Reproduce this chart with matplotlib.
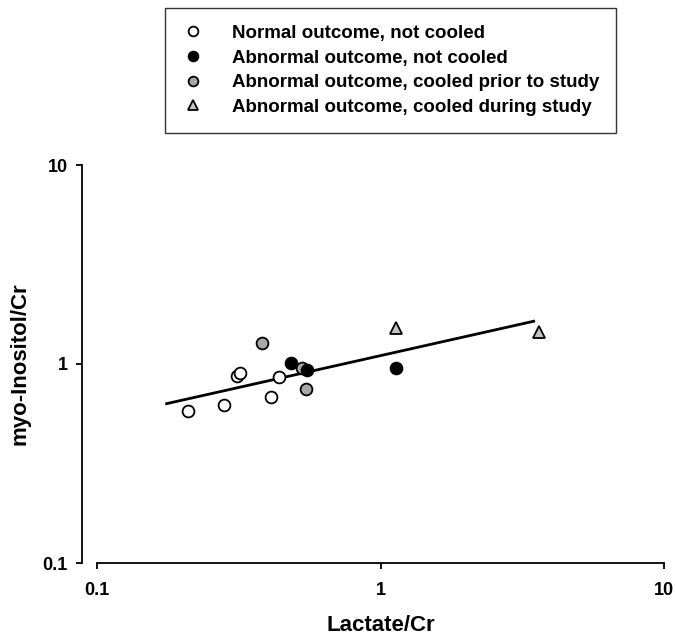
import matplotlib
matplotlib.use("Agg")
import matplotlib.pyplot as plt
from matplotlib.lines import Line2D

plt.rcParams['font.family'] = ['Liberation Sans', 'DejaVu Sans']
plt.rcParams['font.weight'] = 'bold'

# Data
normal_x = [0.210, 0.281, 0.311, 0.320, 0.410, 0.439]
normal_y = [0.582, 0.624, 0.873, 0.901, 0.679, 0.856]
abn_x = [0.482, 0.551, 1.13]
abn_y = [1.01, 0.929, 0.955]
cooled_prior_x = [0.383, 0.529, 0.548]
cooled_prior_y = [1.27, 0.95, 0.748]
cooled_during_x = [1.13, 3.62]
cooled_during_y = [1.52, 1.45]
fit_x = [0.176, 3.47]
fit_y = [0.632, 1.64]

labels = ["Normal outcome, not cooled",
          "Abnormal outcome, not cooled",
          "Abnormal outcome, cooled prior to study",
          "Abnormal outcome, cooled during study"]
tick_vals = [0.1, 1, 10]
tick_labels = ['0.1', '1', '10']

fig = plt.figure(figsize=(6.75, 6.37), dpi=100)
ax = fig.add_axes([97/675, 1-563/637, (664-97)/675, (563-165)/637])
ax.set_xscale('log')
ax.set_yscale('log')
ax.set_xlim(0.1, 10)
ax.set_ylim(0.1, 10)

ax.plot(fit_x, fit_y, color='black', lw=2, zorder=2)
ms = 8.5
mew = 1.3
ax.plot(normal_x, normal_y, 'o', ms=ms, mfc='white', mec='black', mew=mew, zorder=3)
ax.plot(cooled_prior_x, cooled_prior_y, 'o', ms=ms, mfc='#a8a8a8', mec='black', mew=mew, zorder=3)
ax.plot(abn_x, abn_y, 'o', ms=ms, mfc='black', mec='black', mew=mew, zorder=4)
ax.plot(cooled_during_x, cooled_during_y, '^', ms=ms, mfc='#c4c4c4', mec='black', mew=mew, zorder=3)

for s in ['top', 'right']:
    ax.spines[s].set_visible(False)
ax.spines['left'].set_position(('outward', 11))
ax.spines['left'].set_linewidth(1.3)
ax.spines['bottom'].set_linewidth(1.3)
ax.set_xticks(tick_vals)
ax.set_xticklabels(tick_labels)
ax.set_yticks(tick_vals)
ax.set_yticklabels(tick_labels)
ax.minorticks_off()
ax.tick_params(axis='both', direction='out', length=4, width=1.3, labelsize=13)
ax.tick_params(axis='x', pad=10)
ax.tick_params(axis='y', pad=6)
for t in ax.get_xticklabels() + ax.get_yticklabels():
    t.set_fontweight('bold')

ax.set_xlabel('Lactate/Cr', fontsize=16, fontweight='bold', labelpad=11)
ax.set_ylabel('myo-Inositol/Cr', fontsize=16, fontweight='bold')
ax.yaxis.set_label_coords(-0.117, 0.5)

handles = [
    Line2D([], [], ls='none', marker='o', ms=7, mfc='white', mec='black', mew=1.3),
    Line2D([], [], ls='none', marker='o', ms=7, mfc='black', mec='black', mew=1.3),
    Line2D([], [], ls='none', marker='o', ms=7, mfc='#a8a8a8', mec='black', mew=1.3),
    Line2D([], [], ls='none', marker='^', ms=7, mfc='#c4c4c4', mec='black', mew=1.3),
]
leg = fig.legend(handles, labels, loc='upper left', bbox_to_anchor=(165/675, 1-8/637),
                 frameon=True, fancybox=False, edgecolor='black', fontsize=13.5,
                 handlelength=1.2, handletextpad=1.47, labelspacing=0.4,
                 borderpad=0.9, borderaxespad=0)
leg.get_frame().set_linewidth(1.0)
for t in leg.get_texts():
    t.set_fontweight('bold')

fig.savefig('out.png', dpi=100)
